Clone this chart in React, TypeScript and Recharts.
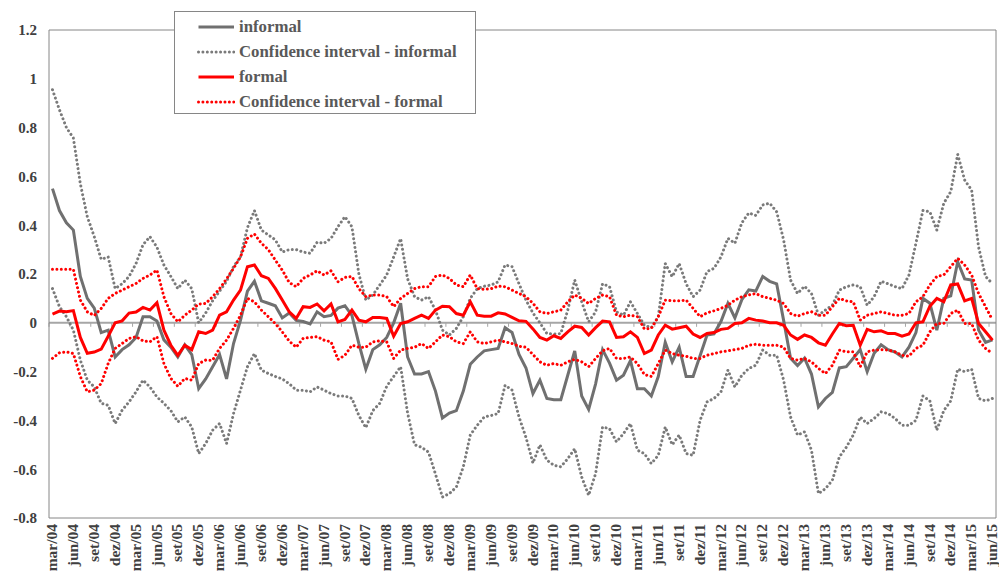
import { LineChart, Line, XAxis, YAxis, ReferenceLine } from "recharts"

const MONTH_NAMES = ["jan", "fev", "mar", "abr", "mai", "jun", "jul", "ago", "set", "out", "nov", "dez"]
const START_YEAR = 2004
const START_MONTH = 2 // mar/04

const Y_TICKS = [-0.8, -0.6, -0.4, -0.2, 0, 0.2, 0.4, 0.6, 0.8, 1, 1.2]

// monthly values, mar/04 .. jun/15
const informal = [
  0.55, 0.46, 0.41, 0.38, 0.19, 0.1, 0.06, -0.04, -0.03, -0.14, -0.11, -0.09, -0.06, 0.025, 0.025, 0.007,
  -0.07, -0.1, -0.14, -0.09, -0.13, -0.27, -0.23, -0.18, -0.13, -0.23, -0.085, 0.01, 0.13, 0.17, 0.09, 0.08,
  0.07, 0.02, 0.04, 0.01, 0.005, -0.005, 0.045, 0.025, 0.03, 0.06, 0.07, 0.03, -0.085, -0.19, -0.11, -0.09,
  -0.06, 0.0, 0.08, -0.14, -0.21, -0.21, -0.2, -0.28, -0.39, -0.37, -0.36, -0.28, -0.17, -0.14, -0.115, -0.11,
  -0.105, -0.02, -0.04, -0.13, -0.185, -0.29, -0.235, -0.31, -0.315, -0.315, -0.215, -0.115, -0.3, -0.355, -0.25, -0.11,
  -0.165, -0.235, -0.215, -0.155, -0.27, -0.27, -0.3, -0.22, -0.08, -0.16, -0.1, -0.22, -0.22, -0.135, -0.05, -0.045,
  0.005, 0.08, 0.02, 0.095, 0.135, 0.13, 0.19, 0.17, 0.16, 0.01, -0.145, -0.175, -0.145, -0.21, -0.345, -0.31,
  -0.285, -0.185, -0.18, -0.145, -0.11, -0.2, -0.125, -0.09, -0.11, -0.12, -0.14, -0.1, -0.04, 0.1, 0.08, -0.03,
  0.1, 0.11, 0.25, 0.18, 0.175, -0.03, -0.08, -0.07,
]

const ciInformalUp = [
  0.955, 0.873, 0.8, 0.757, 0.57, 0.435, 0.353, 0.26, 0.27, 0.14, 0.16, 0.19, 0.243, 0.32, 0.353, 0.31,
  0.237, 0.19, 0.14, 0.175, 0.14, 0.0, 0.04, 0.09, 0.13, 0.17, 0.23, 0.27, 0.39, 0.46, 0.38, 0.36,
  0.34, 0.29, 0.3, 0.3, 0.29, 0.285, 0.33, 0.326, 0.346, 0.394, 0.435, 0.394, 0.2, 0.093, 0.114, 0.155,
  0.196, 0.27, 0.345, 0.18, 0.107, 0.093, 0.107, 0.052, -0.03, -0.05, -0.023, 0.025, 0.1, 0.14, 0.15, 0.155,
  0.168, 0.237, 0.23, 0.16, 0.093, 0.04, 0.0, -0.044, -0.046, -0.044, 0.052, 0.175, 0.086, 0.004, 0.045, 0.16,
  0.148, 0.045, 0.031, 0.086, 0.038, -0.01, -0.02, 0.025, 0.243, 0.189, 0.243, 0.16, 0.107, 0.134, 0.21, 0.223,
  0.27, 0.346, 0.326, 0.41, 0.45, 0.44, 0.483, 0.49, 0.455, 0.34, 0.175, 0.12, 0.15, 0.12, 0.031, 0.052,
  0.072, 0.134, 0.148, 0.155, 0.148, 0.072, 0.107, 0.17, 0.16, 0.148, 0.14, 0.196, 0.326, 0.46, 0.455, 0.38,
  0.49, 0.537, 0.69, 0.585, 0.544, 0.31, 0.19, 0.16,
]

const ciInformalLow = [
  0.14, 0.066, 0.025, -0.03, -0.153, -0.235, -0.263, -0.33, -0.338, -0.413, -0.358, -0.324, -0.283, -0.235, -0.263, -0.304,
  -0.33, -0.36, -0.406, -0.386, -0.427, -0.536, -0.495, -0.44, -0.413, -0.495, -0.372, -0.276, -0.18, -0.126, -0.194, -0.208,
  -0.22, -0.23, -0.25, -0.276, -0.276, -0.283, -0.263, -0.276, -0.29, -0.3, -0.3, -0.31, -0.38, -0.43, -0.36, -0.33,
  -0.26, -0.22, -0.18, -0.37, -0.5, -0.51, -0.53, -0.62, -0.714, -0.7, -0.673, -0.59, -0.46, -0.42, -0.386, -0.38,
  -0.372, -0.256, -0.276, -0.386, -0.47, -0.575, -0.5, -0.563, -0.584, -0.59, -0.557, -0.516, -0.632, -0.707, -0.618, -0.427,
  -0.434, -0.488, -0.454, -0.413, -0.522, -0.536, -0.577, -0.543, -0.427, -0.5, -0.46, -0.536, -0.543, -0.4, -0.324, -0.31,
  -0.283, -0.194, -0.263, -0.215, -0.187, -0.174, -0.112, -0.133, -0.133, -0.235, -0.386, -0.46, -0.447, -0.522, -0.7, -0.68,
  -0.645, -0.55, -0.51, -0.46, -0.386, -0.413, -0.392, -0.365, -0.372, -0.392, -0.42, -0.42, -0.4, -0.3, -0.32, -0.44,
  -0.36, -0.32, -0.19, -0.2, -0.19, -0.31, -0.32, -0.31,
]

const formal = [
  0.036, 0.048, 0.045, 0.05, -0.06, -0.125, -0.12, -0.108, -0.055, 0.0, 0.008, 0.04, 0.044, 0.063, 0.052, 0.082,
  -0.03, -0.092, -0.133, -0.092, -0.11, -0.037, -0.044, -0.03, 0.031, 0.045, 0.093, 0.134, 0.23, 0.237, 0.193, 0.182,
  0.141, 0.093, 0.045, 0.018, 0.066, 0.063, 0.077, 0.049, 0.077, 0.004, 0.014, 0.052, 0.011, 0.004, 0.022, 0.022,
  0.018, -0.055, -0.003, 0.004, 0.018, 0.031, 0.018, 0.052, 0.068, 0.066, 0.038, 0.031, 0.086, 0.031, 0.027, 0.027,
  0.041, 0.036, 0.022, 0.008, 0.006, -0.025, -0.06, -0.071, -0.053, -0.064, -0.037, -0.014, -0.019, -0.05, -0.02, 0.007,
  0.004, -0.06, -0.057, -0.037, -0.06, -0.126, -0.112, -0.05, -0.01, -0.026, -0.02, -0.014, -0.046, -0.06, -0.044, -0.04,
  -0.027, -0.023, -0.003, 0.0, 0.018, 0.011, 0.007, 0.0, 0.0, -0.01, -0.05, -0.068, -0.05, -0.06, -0.082, -0.092,
  -0.046, -0.003, -0.012, -0.01, -0.092, -0.027, -0.037, -0.033, -0.044, -0.044, -0.055, -0.046, 0.0, 0.004, 0.068, 0.1,
  0.086, 0.155, 0.159, 0.09, 0.1, -0.003, -0.037, -0.071,
]

const ciFormalUp = [
  0.219, 0.219, 0.219, 0.219, 0.093, 0.045, 0.03, 0.059, 0.1, 0.12, 0.134, 0.148, 0.161, 0.182, 0.196, 0.216,
  0.107, 0.038, 0.004, 0.031, 0.052, 0.077, 0.079, 0.107, 0.14, 0.18, 0.223, 0.27, 0.346, 0.364, 0.326, 0.3,
  0.257, 0.216, 0.165, 0.148, 0.182, 0.196, 0.213, 0.196, 0.213, 0.168, 0.186, 0.19, 0.14, 0.107, 0.114, 0.114,
  0.107, 0.066, 0.1, 0.12, 0.14, 0.148, 0.148, 0.19, 0.196, 0.182, 0.155, 0.148, 0.196, 0.14, 0.137, 0.14,
  0.15, 0.148, 0.134, 0.12, 0.107, 0.08, 0.045, 0.038, 0.045, 0.052, 0.086, 0.114, 0.1, 0.079, 0.1, 0.114,
  0.107, 0.031, 0.025, 0.031, 0.025, -0.025, -0.023, 0.025, 0.093, 0.09, 0.09, 0.093, 0.059, 0.025, 0.041, 0.049,
  0.059, 0.072, 0.093, 0.107, 0.114, 0.12, 0.107, 0.1, 0.093, 0.079, 0.038, 0.027, 0.038, 0.045, 0.031, 0.031,
  0.066, 0.1, 0.09, 0.086, 0.011, 0.031, 0.038, 0.045, 0.038, 0.031, 0.031, 0.038, 0.086, 0.107, 0.155, 0.19,
  0.196, 0.23, 0.264, 0.237, 0.196, 0.12, 0.066, 0.011,
]

const ciFormalLow = [
  -0.146, -0.123, -0.119, -0.126, -0.22, -0.283, -0.276, -0.249, -0.167, -0.105, -0.085, -0.064, -0.057, -0.074, -0.078, -0.057,
  -0.167, -0.228, -0.26, -0.228, -0.235, -0.167, -0.153, -0.153, -0.105, -0.071, -0.023, 0.031, 0.1, 0.086, 0.052, 0.025,
  -0.003, -0.037, -0.075, -0.1, -0.064, -0.06, -0.057, -0.071, -0.078, -0.15, -0.133, -0.092, -0.1, -0.1, -0.078, -0.074,
  -0.078, -0.146, -0.112, -0.105, -0.1, -0.085, -0.105, -0.078, -0.05, -0.057, -0.078, -0.085, -0.037, -0.078, -0.085, -0.078,
  -0.071, -0.078, -0.085, -0.096, -0.1, -0.13, -0.16, -0.174, -0.167, -0.174, -0.16, -0.15, -0.16, -0.18, -0.146, -0.115,
  -0.105, -0.146, -0.146, -0.14, -0.167, -0.212, -0.22, -0.167, -0.112, -0.126, -0.133, -0.137, -0.146, -0.146, -0.133, -0.126,
  -0.119, -0.115, -0.11, -0.105, -0.092, -0.088, -0.092, -0.092, -0.092, -0.1, -0.146, -0.153, -0.146, -0.16, -0.187, -0.208,
  -0.174, -0.112, -0.119, -0.119, -0.18, -0.119, -0.112, -0.11, -0.112, -0.119, -0.133, -0.137, -0.105, -0.092, -0.037, -0.003,
  -0.003, 0.038, 0.052, -0.003, -0.003, -0.071, -0.105, -0.126,
]

const months = informal.map((_, i) => {
  const m = START_MONTH + i
  const yr = START_YEAR + Math.floor(m / 12)
  return `${MONTH_NAMES[m % 12]}/${String(yr % 100).padStart(2, "0")}`
})

const data = months.map((m, i) => ({
  m,
  informal: informal[i],
  ciInfUp: ciInformalUp[i],
  ciInfLow: ciInformalLow[i],
  formal: formal[i],
  ciFrmUp: ciFormalUp[i],
  ciFrmLow: ciFormalLow[i],
}))

const FONT = '"Liberation Serif", "Times New Roman", serif'
const GRAY = "#707070"
const GRAY_DOT = "#7a7a7a"
const RED = "#ff0000"
const FRAME = "#868686"
const LABEL = "#404040"
const DOTS = "0.01 4.4"

function MonthTick({ x, y, payload }: { x?: number; y?: number; payload?: { value: string } }) {
  return (
    <g transform={`translate(${x},${y})`}>
      <text
        transform="rotate(-90)"
        x={-6}
        y={0}
        dy="0.3em"
        textAnchor="end"
        fontSize={15.5}
        fontWeight="bold"
        fill={LABEL}
        fontFamily={FONT}
      >
        {payload?.value}
      </text>
    </g>
  )
}

// zero line with tick marks every 3 months (between categories)
function ZeroAxis(props: { x1?: number; x2?: number; y1?: number }) {
  const x1 = Number(props.x1)
  const x2 = Number(props.x2)
  const y = Number(props.y1)
  const step = (x2 - x1) / months.length
  const marks = []
  for (let k = 0; k < months.length; k += 3) {
    const x = x1 + k * step
    marks.push(<line key={k} x1={x} x2={x} y1={y} y2={y + 4} stroke="#a6a6a6" strokeWidth={1} />)
  }
  return (
    <g>
      <line x1={x1} x2={x2} y1={y} y2={y} stroke="#a6a6a6" strokeWidth={2} />
      {marks}
    </g>
  )
}

const LEGEND = [
  { label: "informal", color: GRAY, dotted: false },
  { label: "Confidence interval - informal", color: GRAY_DOT, dotted: true },
  { label: "formal", color: RED, dotted: false },
  { label: "Confidence interval - formal", color: RED, dotted: true },
]

function Legend() {
  return (
    <div
      style={{
        position: "absolute",
        left: 174,
        top: 11,
        width: 300,
        height: 99,
        border: `1px solid ${FRAME}`,
        background: "#fff",
        fontFamily: FONT,
        fontWeight: "bold",
        fontSize: 16.8,
        color: "#595959",
        paddingTop: 2,
        boxSizing: "content-box",
      }}
    >
      {LEGEND.map((it) => (
        <div key={it.label} style={{ display: "flex", alignItems: "center", height: 25, marginLeft: 22 }}>
          <svg width={38} height={10} style={{ marginRight: 4 }}>
            <line
              x1={1.5}
              x2={37}
              y1={5}
              y2={5}
              stroke={it.color}
              strokeWidth={it.dotted ? 3 : 3}
              strokeDasharray={it.dotted ? DOTS : undefined}
              strokeLinecap={it.dotted ? "round" : "butt"}
            />
          </svg>
          <span>{it.label}</span>
        </div>
      ))}
    </div>
  )
}

export default function App() {
  return (
    <div style={{ position: "absolute", left: 0, top: 0, width: 999, height: 579, background: "#fff" }}>
      <LineChart width={999} height={579} data={data} margin={{ top: 29, right: 2, bottom: 0, left: 0 }}>
        <XAxis
          dataKey="m"
          scale="band"
          interval={2}
          height={61}
          tickLine={false}
          tickSize={0}
          tickMargin={0}
          axisLine={{ stroke: FRAME }}
          tick={<MonthTick />}
        />
        <XAxis xAxisId="top" dataKey="m" orientation="top" height={1} tick={false} tickLine={false} axisLine={{ stroke: FRAME }} />
        <YAxis
          domain={[-0.8, 1.2]}
          ticks={Y_TICKS}
          interval={0}
          width={49}
          tickLine={false}
          tickSize={0}
          tickMargin={12}
          axisLine={{ stroke: FRAME }}
          tick={{ fill: LABEL, fontSize: 15, fontWeight: "bold", fontFamily: FONT }}
        />
        <YAxis yAxisId="right" orientation="right" domain={[0, 1]} width={1} tick={false} tickLine={false} axisLine={{ stroke: FRAME }} />
        <ReferenceLine y={0} shape={(p: any) => <ZeroAxis {...p} />} />
        <Line dataKey="informal" stroke={GRAY} strokeWidth={3} dot={false} isAnimationActive={false} />
        <Line dataKey="ciInfUp" stroke={GRAY_DOT} strokeWidth={3} strokeDasharray={DOTS} strokeLinecap="round" dot={false} isAnimationActive={false} />
        <Line dataKey="ciInfLow" stroke={GRAY_DOT} strokeWidth={3} strokeDasharray={DOTS} strokeLinecap="round" dot={false} isAnimationActive={false} />
        <Line dataKey="formal" stroke={RED} strokeWidth={3} dot={false} isAnimationActive={false} />
        <Line dataKey="ciFrmUp" stroke={RED} strokeWidth={3} strokeDasharray={DOTS} strokeLinecap="round" dot={false} isAnimationActive={false} />
        <Line dataKey="ciFrmLow" stroke={RED} strokeWidth={3} strokeDasharray={DOTS} strokeLinecap="round" dot={false} isAnimationActive={false} />
      </LineChart>
      <Legend />
    </div>
  )
}
